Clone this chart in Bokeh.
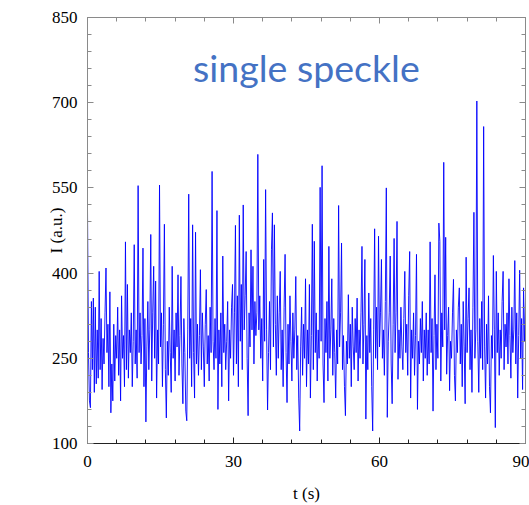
from bokeh.plotting import figure
from bokeh.models import Range1d, FixedTicker, LinearAxis, Label
from bokeh.embed import file_html
from bokeh.resources import INLINE

DT = 0.2

intensity_00_10 = [
    510, 260, 175, 163, 350, 230, 356, 190, 340, 205,
    300, 215, 403, 230, 320, 195, 285, 240, 330, 409,
    260, 310, 200, 367, 154, 240, 175, 310, 210, 290,
    250, 340, 220, 300, 175, 360, 250, 290, 200, 455,
    230, 380, 215, 300, 260, 330, 200, 280, 450, 240,
]
intensity_10_20 = [
    300, 215, 554, 260, 330, 240, 290, 444, 200, 320,
    138, 270, 350, 230, 300, 468, 210, 330, 412, 250,
    386, 180, 300, 240, 555, 270, 330, 200, 310, 486,
    230, 145, 280, 220, 340, 260, 190, 412, 250, 300,
    210, 330, 270, 397, 220, 290, 394, 240, 170, 320,
]
intensity_20_30 = [
    260, 157, 140, 300, 539, 250, 320, 200, 485, 260,
    180, 472, 240, 310, 220, 290, 406, 230, 330, 270,
    200, 310, 371, 240, 290, 210, 340, 260, 579, 280,
    230, 320, 250, 510, 160, 300, 240, 330, 200, 430,
    260, 310, 230, 280, 350, 175, 300, 250, 340, 380,
]
intensity_30_40 = [
    220, 330, 484, 240, 360, 200, 502, 280, 380, 230,
    520, 300, 360, 438, 250, 149, 330, 270, 441, 300,
    412, 240, 350, 290, 330, 609, 300, 360, 250, 320,
    210, 424, 280, 547, 300, 159, 260, 350, 230, 441,
    506, 270, 485, 310, 220, 360, 250, 330, 403, 230,
]
intensity_40_50 = [
    300, 200, 340, 433, 260, 172, 310, 240, 360, 280,
    210, 330, 250, 300, 394, 230, 290, 180, 122, 270,
    340, 220, 310, 250, 390, 200, 300, 240, 380, 180,
    290, 486, 230, 456, 260, 330, 210, 300, 250, 551,
    280, 589, 240, 172, 320, 260, 350, 210, 447, 250,
]
intensity_50_60 = [
    300, 390, 220, 320, 260, 180, 300, 240, 519, 270,
    330, 453, 230, 290, 200, 149, 280, 240, 362, 250,
    310, 200, 340, 270, 230, 320, 260, 356, 210, 300,
    250, 330, 447, 240, 310, 424, 143, 290, 230, 365,
    260, 320, 200, 122, 300, 478, 250, 340, 230, 465,
]
intensity_60_70 = [
    270, 330, 424, 250, 300, 220, 350, 550, 146, 280,
    330, 430, 240, 170, 310, 461, 260, 330, 491, 213,
    300, 250, 340, 270, 230, 320, 403, 260, 310, 220,
    360, 438, 180, 300, 250, 330, 220, 290, 433, 160,
    280, 240, 320, 260, 350, 210, 300, 250, 330, 220,
]
intensity_70_80 = [
    300, 240, 455, 260, 320, 157, 290, 397, 230, 310,
    250, 488, 456, 210, 330, 270, 595, 300, 463, 222,
    290, 340, 193, 280, 250, 330, 389, 220, 175, 300,
    260, 340, 374, 240, 310, 200, 350, 270, 170, 428,
    260, 320, 374, 230, 300, 190, 340, 507, 250, 300,
]
intensity_80_90 = [
    703, 280, 190, 320, 250, 350, 230, 658, 270, 180,
    310, 240, 360, 200, 154, 290, 250, 431, 300, 128,
    403, 260, 330, 220, 300, 250, 350, 403, 230, 310,
    270, 330, 240, 390, 290, 215, 340, 260, 300, 422,
    240, 330, 180, 290, 405, 250, 320, 195, 374, 280,
    350,
]

intensity = (intensity_00_10 + intensity_10_20 + intensity_20_30 + intensity_30_40
             + intensity_40_50 + intensity_50_60 + intensity_60_70 + intensity_70_80
             + intensity_80_90)
time_s = [round(i * DT, 1) for i in range(len(intensity))]

x_major_ticks = [0, 30, 60, 90]
x_minor_ticks = [0, 6, 12, 18, 24, 30, 36, 42, 48, 54, 60, 66, 72, 78, 84, 90]
y_major_ticks = [100, 250, 400, 550, 700, 850]
y_minor_ticks = [100, 130, 160, 190, 220, 250, 280, 310, 340, 370, 400, 430, 460,
                 490, 520, 550, 580, 610, 640, 670, 700, 730, 760, 790, 820, 850]
x_label = "t (s)"
y_label = "I (a.u.)"
annotation_text = "single speckle"
annotation_pos = (21.7, 762)

# ---------------- figure ----------------
SERIF = "Liberation Serif"

p = figure(width=529, height=505, output_backend="svg", toolbar_location=None,
           x_range=Range1d(0, 90), y_range=Range1d(100, 850),
           x_axis_location=None, y_axis_location=None,
           min_border_left=87, min_border_right=4, min_border_top=17,
           min_border_bottom=61)
p.outline_line_color = None
p.background_fill_color = "white"
p.border_fill_color = "white"
p.grid.visible = False

xt = FixedTicker(ticks=x_major_ticks, minor_ticks=x_minor_ticks)
yt = FixedTicker(ticks=y_major_ticks, minor_ticks=y_minor_ticks)


def style_axis(ax, color, ticks, labels=True):
    ax.axis_line_color = color
    ax.axis_line_width = 1
    ax.major_tick_line_color = color
    ax.minor_tick_line_color = color
    ax.major_tick_in = 6
    ax.major_tick_out = 0
    ax.minor_tick_in = 4
    ax.minor_tick_out = 0
    if labels:
        ax.major_label_text_font = SERIF
        ax.major_label_text_font_size = "17px"
        ax.major_label_text_color = "black"
        ax.axis_label_text_font = SERIF
        ax.axis_label_text_font_size = "17px"
        ax.axis_label_text_font_style = "normal"
        ax.axis_label_text_color = "black"
    else:
        ax.major_label_overrides = {t: "" for t in ticks}
        ax.major_label_standoff = 0


bottom = LinearAxis(ticker=xt, axis_label=x_label)
style_axis(bottom, "#222222", x_major_ticks)
bottom.major_label_standoff = 12
bottom.axis_label_standoff = 14
p.add_layout(bottom, "below")

left = LinearAxis(ticker=yt, axis_label=y_label)
style_axis(left, "#8a8a8a", y_major_ticks)
left.major_label_standoff = 10
left.axis_label_standoff = -17
p.add_layout(left, "left")

top = LinearAxis(ticker=xt)
style_axis(top, "#8a8a8a", x_major_ticks, labels=False)
p.add_layout(top, "above")

right = LinearAxis(ticker=yt)
style_axis(right, "#8a8a8a", y_major_ticks, labels=False)
p.add_layout(right, "right")

p.line(time_s, intensity, line_color="#0000ff", line_width=1, line_alpha=0.9)

p.add_layout(Label(x=annotation_pos[0], y=annotation_pos[1], text=annotation_text,
                   text_font="Lato", text_font_size="37.5px", text_color="#4472C4",
                   text_baseline="alphabetic"))

open("out.html", "w").write(file_html(p, INLINE))
